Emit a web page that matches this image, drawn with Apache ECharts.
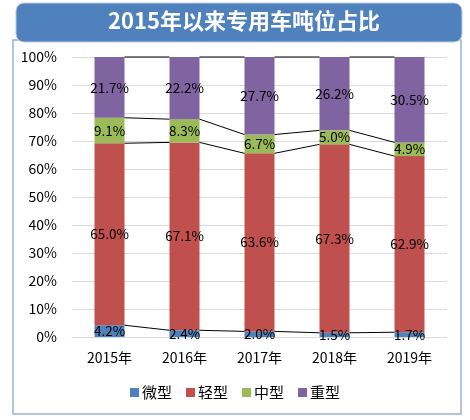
<!DOCTYPE html>
<html>
<head>
<meta charset="utf-8">
<script src="https://cdn.jsdelivr.net/npm/echarts@6/dist/echarts.min.js"></script>
<style>
html, body { margin: 0; padding: 0; background: #fff; }
#main { width: 470px; height: 420px; }
</style>
</head>
<body>
<div id="main"></div>
<script>
var years = ['2015年', '2016年', '2017年', '2018年', '2019年'];
var micro = [4.2, 2.4, 2.0, 1.5, 1.7];
var light = [65.0, 67.1, 63.6, 67.3, 62.9];
var medium = [9.1, 8.3, 6.7, 5.0, 4.9];
var heavy = [21.7, 22.2, 27.7, 26.2, 30.5];
var yTicks = [0, 10, 20, 30, 40, 50, 60, 70, 80, 90, 100];

var font = '"Noto Sans CJK SC", "Microsoft YaHei", sans-serif';

// 累计高度，用来画系列线
var levels = [[], [], [], []];
for (var i = 0; i < years.length; i++) {
	var a = micro[i], b = a + light[i], c = b + medium[i], d = c + heavy[i];
	levels[0].push(a);
	levels[1].push(b);
	levels[2].push(c);
	levels[3].push(d);
}

function barLabel() {
	return {
		show: true,
		position: 'inside',
		color: '#000',
		fontSize: 13.5,
		fontFamily: font,
		formatter: function(p){ return p.value.toFixed(1) + '%'; }
	};
}

function makeBar(name, data, color) {
	return {
		name: name,
		type: 'bar',
		stack: 'all',
		barWidth: '40%',
		data: data,
		itemStyle: { color: color },
		label: barLabel()
	};
}

var myChart = echarts.init(document.getElementById('main'));
var option = {
	animation: false,
	textStyle: { fontFamily: font },
	graphic: [
		{
			type: 'rect',
			shape: { x: 13, y: 40, width: 448, height: 374 },
			style: { fill: '#fff', stroke: '#95B3D7', lineWidth: 1.5 },
			z: -10
		},
		{
			type: 'rect',
			shape: { x: 16, y: 3, width: 446, height: 39, r: 8 },
			style: { fill: '#4F81BD', stroke: '#B8CCE4', lineWidth: 1 },
			z: -5
		}
	],
	title: {
		text: '2015年以来专用车吨位占比',
		left: 239,
		top: 5,
		textAlign: 'center',
		textStyle: {
			color: '#fff',
			fontSize: 22,
			fontWeight: 'bold',
			fontFamily: font
		}
	},
	legend: {
		bottom: 15,
		left: 'center',
		itemWidth: 9,
		itemHeight: 9,
		itemGap: 14,
		icon: 'rect',
		textStyle: { fontSize: 15, color: '#000', fontFamily: font, padding: [0, 0, 0, -2] },
		data: ['微型', '轻型', '中型', '重型']
	},
	grid: { left: 72, right: 23, top: 57, bottom: 83 },
	xAxis: {
		type: 'category',
		data: years,
		axisTick: { show: false },
		axisLine: { lineStyle: { color: '#D9D9D9' } },
		axisLabel: { color: '#000', fontSize: 14, margin: 14, fontFamily: font }
	},
	yAxis: {
		type: 'value',
		min: yTicks[0],
		max: yTicks[yTicks.length - 1],
		interval: 10,
		axisLine: { show: false },
		axisTick: { show: false },
		splitLine: { lineStyle: { color: '#D9D9D9' } },
		axisLabel: { color: '#000', fontSize: 14, margin: 15, fontFamily: font, formatter: '{value}%' }
	},
	series: [
		makeBar('微型', micro, '#4F81BD'),
		makeBar('轻型', light, '#C0504D'),
		makeBar('中型', medium, '#9BBB59'),
		makeBar('重型', heavy, '#8064A2'),
		{
			type: 'custom',
			silent: true,
			z: 5,
			data: [0, 1, 2, 3],
			renderItem: function(params, api){
				var idx = api.value(0);
				var hw = api.size([1, 0])[0] * 0.4 / 2;
				var children = [];
				for (var k = 0; k < levels.length; k++) {
					var p1 = api.coord([idx, levels[k][idx]]);
					var p2 = api.coord([idx + 1, levels[k][idx + 1]]);
					children.push({
						type: 'line',
						shape: { x1: p1[0] + hw, y1: p1[1], x2: p2[0] - hw, y2: p2[1] },
						style: { stroke: '#000', lineWidth: 1 }
					});
				}
				return { type: 'group', children: children };
			}
		}
	]
};
myChart.setOption(option);
</script>
</body>
</html>
